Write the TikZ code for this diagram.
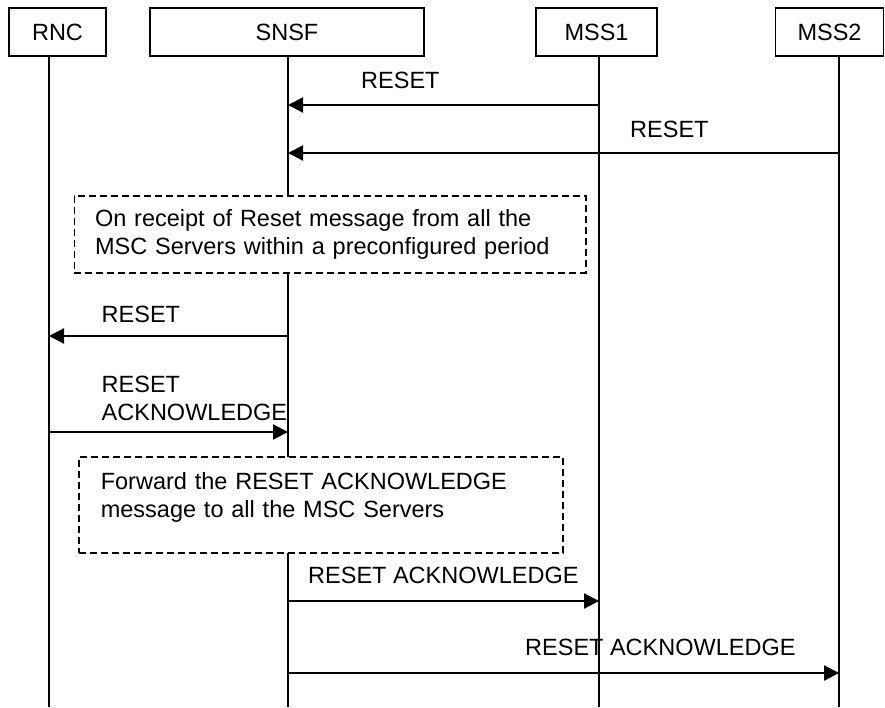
\documentclass[tikz,border=0pt]{standalone}
\usepackage{fontspec}
\setmainfont{Liberation Sans}
\usetikzlibrary{arrows.meta}

\begin{document}
\begin{tikzpicture}[x=1pt,y=-1pt,
  every node/.style={inner sep=0pt,font=\fontsize{23.5}{27.5}\selectfont},
  head/.style={draw,line width=1.6pt,minimum height=48pt},
  life/.style={line width=1.8pt},
  msg/.style={line width=2.2pt,-{Triangle[length=15pt,width=15pt]}},
  note/.style={draw,line width=1.6pt,dash pattern=on 7pt off 4pt,fill=white,
    align=left,anchor=north west},
  lbl/.style={anchor=base west}]
\useasboundingbox (0,0) rectangle (885,707);
% entities
\node[head,minimum width=97pt]  (rnc)  at (57.5,32)  {RNC};
\node[head,minimum width=274pt] (snsf) at (287,32)   {SNSF};
\node[head,minimum width=121pt] (mss1) at (596.5,32) {MSS1};
\node[head,minimum width=108pt] (mss2) at (829.5,32) {MSS2};
% lifelines
\coordinate (rncL)  at (49,56);
\coordinate (snsfL) at (288,56);
\coordinate (mss1L) at (599,56);
\coordinate (mss2L) at (839,56);
\coordinate (bot) at (0,707);
\foreach \l in {rncL,snsfL,mss1L,mss2L}
  \draw[life] (\l) -- (\l |- bot);
% message levels
\foreach \n/\y in {y1/105,y2/153,y3/336,y4/432,y5/601,y6/673}
  \coordinate (\n) at (0,\y);
% notes
\node[note,minimum width=511.5pt,minimum height=77pt,text width=470pt,inner xsep=20.5pt]
  (recv) at (73.5,195) {On receipt of Reset message from all the\\MSC Servers within a preconfigured period};
\node[note,minimum width=484pt,minimum height=96pt,text width=440pt,inner xsep=22pt]
  (fwd) at (78,456) {Forward the RESET ACKNOWLEDGE\\message to all the MSC Servers\\[-8pt]\mbox{}};
% messages
\draw[msg] (mss1L |- y1) -- (snsfL |- y1);
\node[lbl] (reset1) at (361,88) {RESET};
\draw[msg] (mss2L |- y2) -- (snsfL |- y2);
\node[lbl] (reset2) at (630,137) {RESET};
\draw[msg] (snsfL |- y3) -- (rncL |- y3);
\node[lbl] (reset3) at (101.5,322) {RESET};
\draw[msg] (rncL |- y4) -- (snsfL |- y4);
\node[lbl,align=left] (ack1) at (101.5,420) {RESET\\ACKNOWLEDGE};
\draw[msg] (snsfL |- y5) -- (mss1L |- y5);
\node[lbl] (ack2) at (308,583) {RESET ACKNOWLEDGE};
\draw[msg] (snsfL |- y6) -- (mss2L |- y6);
\node[lbl] (ack3) at (525,655) {RESET ACKNOWLEDGE};
\end{tikzpicture}
\end{document}
